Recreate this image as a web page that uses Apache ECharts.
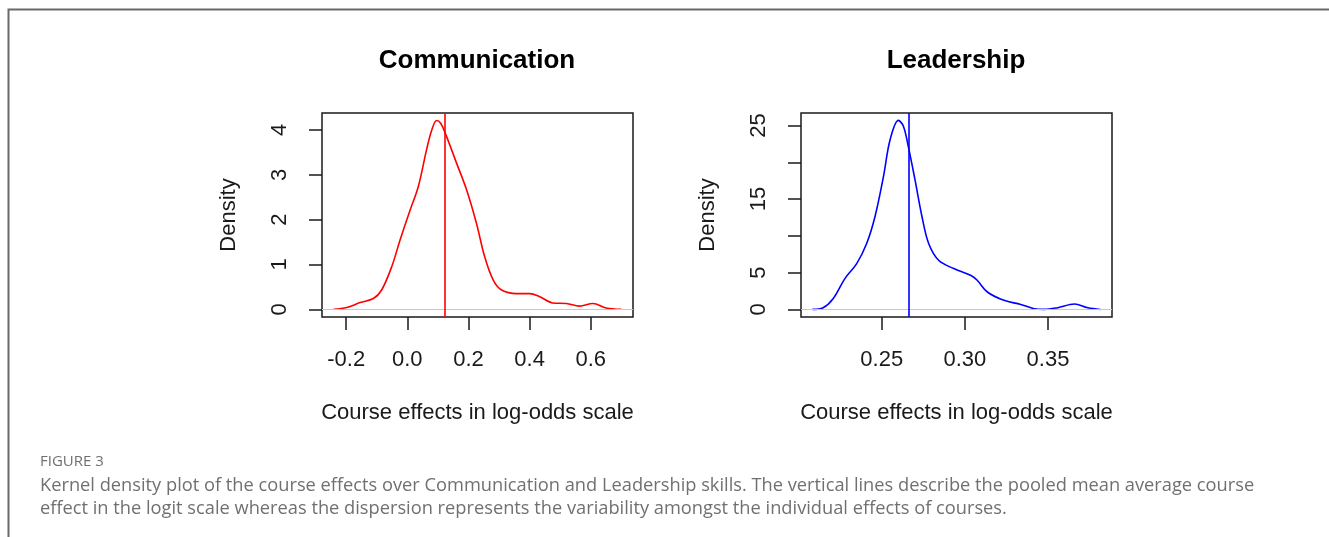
<!DOCTYPE html>
<html>
<head>
<meta charset="utf-8">
<script src="https://cdn.jsdelivr.net/npm/echarts@6/dist/echarts.min.js"></script>
<style>
  html, body { margin: 0; padding: 0; background: #fff; }
  #main { width: 1329px; height: 537px; }
</style>
</head>
<body>
<div id="main"></div>
<script>
// density curves: [effect, density]
var commCurve = [
  [-0.241, 0.0], [-0.198, 0.04], [-0.154, 0.15], [-0.111, 0.24], [-0.084, 0.43],
  [-0.051, 0.95], [-0.024, 1.54], [0.009, 2.21], [0.036, 2.74], [0.063, 3.56],
  [0.080, 4.0], [0.096, 4.21], [0.109, 4.15], [0.124, 3.93], [0.161, 3.26],
  [0.194, 2.66], [0.226, 1.92], [0.253, 1.17], [0.281, 0.65], [0.308, 0.43],
  [0.357, 0.35], [0.400, 0.35], [0.433, 0.28], [0.476, 0.14], [0.520, 0.13],
  [0.563, 0.07], [0.607, 0.13], [0.650, 0.03], [0.700, 0.0]
]
var leadCurve = [
  [0.2083, 0.0], [0.2147, 0.23], [0.2207, 1.46], [0.2278, 4.19], [0.2349, 6.23],
  [0.2409, 8.96], [0.2459, 12.6], [0.2510, 18.05], [0.2550, 23.06], [0.2600, 25.7],
  [0.2630, 24.9], [0.2660, 22.1], [0.2700, 17.6], [0.2742, 12.6], [0.2782, 8.96],
  [0.2842, 6.68], [0.2933, 5.55], [0.3034, 4.64], [0.3074, 3.96], [0.3135, 2.37],
  [0.3235, 1.23], [0.3336, 0.68], [0.3417, 0.09], [0.3477, 0.0], [0.3558, 0.23],
  [0.3659, 0.73], [0.3739, 0.23], [0.3816, 0.0]
]
// pooled mean (vertical lines)
var commMean = 0.124
var leadMean = 0.266

// tick values
var commXTicks = [-0.2, 0.0, 0.2, 0.4, 0.6]
var commYTicks = [0, 1, 2, 3, 4]
var leadXTicks = [0.25, 0.30, 0.35]
var leadYTicks = [0, 5, 10, 15, 20, 25]
var leadYLabels = [0, 5, 15, 25]

var titles = ['Communication', 'Leadership']
var xName = 'Course effects in log-odds scale'
var yName = 'Density'
var figLabel = 'FIGURE 3'
var captionLines = [
  'Kernel density plot of the course effects over Communication and Leadership skills. The vertical lines describe the pooled mean average course',
  'effect in the logit scale whereas the dispersion represents the variability amongst the individual effects of courses.'
]

var font = 'Liberation Sans, Arial, sans-serif'
var ink = '#1a1a1a'

function xAxisOpt(idx, min, max, ticks, digits) {
  return {
    type: 'value', gridIndex: idx, min: min, max: max,
    name: xName, nameLocation: 'middle', nameGap: 85,
    nameTextStyle: { fontFamily: font, fontSize: 22, color: ink },
    axisLine: { show: false, onZero: false },
    axisTick: { show: true, customValues: ticks, length: 13, inside: false,
      lineStyle: { color: ink, width: 1.5 } },
    axisLabel: { show: true, customValues: ticks, margin: 32, fontFamily: font, fontSize: 22, color: ink,
      formatter: function (v) { return v.toFixed(digits) } },
    splitLine: { show: false }
  }
}

function yAxisOpt(idx, min, max, ticks, labels) {
  return {
    type: 'value', gridIndex: idx, min: min, max: max,
    name: yName, nameLocation: 'middle', nameGap: 82, nameRotate: 90,
    nameTextStyle: { fontFamily: font, fontSize: 22, color: ink },
    axisLine: { show: false, onZero: false },
    axisTick: { show: true, customValues: ticks, length: 13, inside: false,
      lineStyle: { color: ink, width: 1.5 } },
    axisLabel: { show: true, customValues: labels, rotate: 90, margin: 31, fontFamily: font, fontSize: 22, color: ink },
    splitLine: { show: false }
  }
}

function curveSeries(idx, data, color, mean) {
  return {
    type: 'line', xAxisIndex: idx, yAxisIndex: idx,
    data: data, smooth: 0.35, showSymbol: false, silent: true,
    lineStyle: { color: color, width: 1.6 },
    z: 3,
    markLine: {
      silent: true, symbol: 'none', label: { show: false },
      animation: false, precision: 4,
      data: [
        { yAxis: 0, lineStyle: { color: '#c8c8c8', width: 1, type: 'solid' } },
        { xAxis: mean, lineStyle: { color: color, width: 1.6, type: 'solid' } }
      ]
    }
  }
}

var myChart = echarts.init(document.getElementById('main'))

var option = {
  animation: false,
  backgroundColor: '#fff',
  title: [
    { text: titles[0], left: 477, top: 48, textAlign: 'center', padding: 0,
      textStyle: { fontFamily: font, fontSize: 26, fontWeight: 'bold', color: '#000' } },
    { text: titles[1], left: 956, top: 48, textAlign: 'center', padding: 0,
      textStyle: { fontFamily: font, fontSize: 26, fontWeight: 'bold', color: '#000' } },
    { text: figLabel, left: 40, top: 454, padding: 0,
      textStyle: { fontFamily: 'Open Sans, sans-serif', fontSize: 15, fontWeight: 'normal', color: '#707070' } },
    { text: captionLines.join('\n'), left: 40, top: 474, padding: 0,
      textStyle: { fontFamily: 'Open Sans, sans-serif', fontSize: 18.25, lineHeight: 23, fontWeight: 'normal', color: '#707070' } }
  ],
  grid: [
    { left: 322, top: 113, width: 311, height: 204, show: true, borderColor: ink, borderWidth: 1.5, backgroundColor: 'transparent' },
    { left: 801, top: 113, width: 311, height: 204, show: true, borderColor: ink, borderWidth: 1.5, backgroundColor: 'transparent' }
  ],
  xAxis: [
    xAxisOpt(0, -0.279, 0.738, commXTicks, 1),
    xAxisOpt(1, 0.2014, 0.3885, leadXTicks, 2)
  ],
  yAxis: [
    yAxisOpt(0, -0.172, 4.378, commYTicks, commYTicks),
    yAxisOpt(1, -1.03, 26.7, leadYTicks, leadYLabels)
  ],
  series: [
    curveSeries(0, commCurve, '#ff0000', commMean),
    curveSeries(1, leadCurve, '#0000ff', leadMean)
  ],
  graphic: [
    { type: 'polyline', silent: true,
      shape: { points: [[8.5, 537], [8.5, 9.5], [1329, 9.5]] },
      style: { stroke: '#6a6a6a', lineWidth: 2, fill: null } }
  ]
}

myChart.setOption(option)
</script>
</body>
</html>
